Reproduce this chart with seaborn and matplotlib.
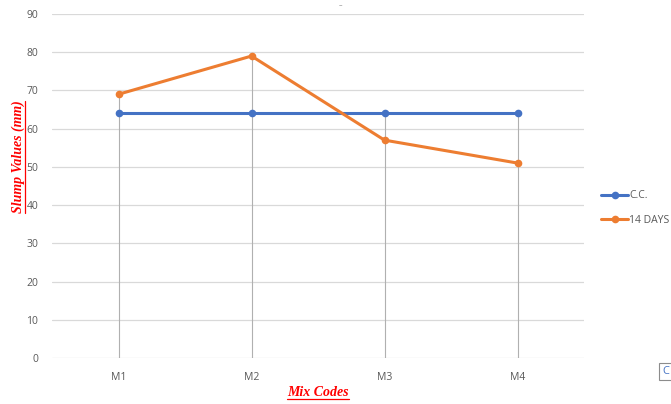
import matplotlib
matplotlib.use("Agg")
import matplotlib.pyplot as plt
from matplotlib.lines import Line2D
from matplotlib.patches import Rectangle
import seaborn as sns
import pandas as pd

# Slump test results per mix
mix_codes = ["M1", "M2", "M3", "M4"]
cc_values = [64, 64, 64, 64]
days14_values = [69, 79, 57, 51]
series_names = ["C.C.", "14 DAYS"]
y_ticks = [0, 10, 20, 30, 40, 50, 60, 70, 80, 90]

blue = "#4472C4"
orange = "#ED7D31"
tick_gray = "#595959"

df = pd.DataFrame({
    "Mix": mix_codes * 2,
    "Slump": cc_values + days14_values,
    "Series": [series_names[0]] * 4 + [series_names[1]] * 4,
})
df["x"] = df["Mix"].map({m: i for i, m in enumerate(mix_codes)})

sns.set_style("white")
plt.rcParams["font.family"] = ["Open Sans", "DejaVu Sans"]

fig = plt.figure(figsize=(6.71, 4.04), dpi=100)
ax = fig.add_axes([52 / 671, 1 - 358 / 404, (584 - 52) / 671, (358 - 14) / 404])

# horizontal gridlines
for t in y_ticks:
    ax.axhline(t, color="#d9d9d9", lw=0.9, zorder=0)

# drop lines from the highest point at each mix down to the axis
for i in range(len(mix_codes)):
    top = max(cc_values[i], days14_values[i])
    ax.plot([i, i], [0, top], color="#b0b0b0", lw=0.8, zorder=1)

sns.lineplot(
    data=df, x="x", y="Slump", hue="Series", hue_order=series_names,
    palette=[blue, orange], marker="o", markersize=5.5, markeredgewidth=0,
    linewidth=2.2, ax=ax, legend=False, zorder=3,
)

ax.set_xlim(-0.5, len(mix_codes) - 0.5)
ax.set_ylim(0, 90)
ax.set_xticks(range(len(mix_codes)))
ax.set_xticklabels(mix_codes)
ax.set_yticks(y_ticks)
ax.tick_params(axis="both", length=0, labelsize=7.5, labelcolor=tick_gray)
ax.tick_params(axis="x", pad=10)
ax.tick_params(axis="y", pad=10)
for s in ax.spines.values():
    s.set_visible(False)
ax.set_xlabel("")
ax.set_ylabel("")

label_font = dict(family="Liberation Serif", color="red", fontweight="bold",
                  fontstyle="italic", fontsize=10)
xl = fig.text(318 / 671, 1 - 392 / 404, "Mix Codes", ha="center", va="center", **label_font)
yl = fig.text(18 / 671, 1 - 157 / 404, "Slump Values (mm)", ha="center", va="center",
              rotation=90, **label_font)

# underline the axis labels
fig.canvas.draw()
r = fig.canvas.get_renderer()
W, H = fig.bbox.width, fig.bbox.height
bb = xl.get_window_extent(r)
fig.add_artist(Line2D([bb.x0 / W, bb.x1 / W], [(bb.y0 - 0.5) / H] * 2, color="red", lw=0.9))
bb = yl.get_window_extent(r)
fig.add_artist(Line2D([(bb.x1 + 0.5) / W] * 2, [bb.y0 / H, bb.y1 / H], color="red", lw=0.9))

# legend on the right
handles = [
    Line2D([], [], color=blue, lw=2.2, marker="o", markersize=5.5, markeredgewidth=0),
    Line2D([], [], color=orange, lw=2.2, marker="o", markersize=5.5, markeredgewidth=0),
]
leg = fig.legend(handles, series_names, loc="center left",
                 bbox_to_anchor=(596 / 671, 1 - 208 / 404), frameon=False,
                 fontsize=7.5, handlelength=2.6, handletextpad=0.1,
                 labelspacing=1.3, numpoints=1, borderpad=0)
for t in leg.get_texts():
    t.set_color(tick_gray)

# small title placeholder dash
fig.text(340 / 671, 1 - 6 / 404, "–", ha="center", va="center", fontsize=5, color="#7f7f7f")

# corner button
fig.add_artist(Rectangle((659 / 671, 1 - 380 / 404), 14 / 671, 17 / 404,
                         transform=fig.transFigure, facecolor="white",
                         edgecolor="#8c8c8c", lw=0.8))
fig.text(662 / 671, 1 - 371 / 404, "C", ha="left", va="center", fontsize=8, color=blue)

fig.savefig("out.png", dpi=100)
